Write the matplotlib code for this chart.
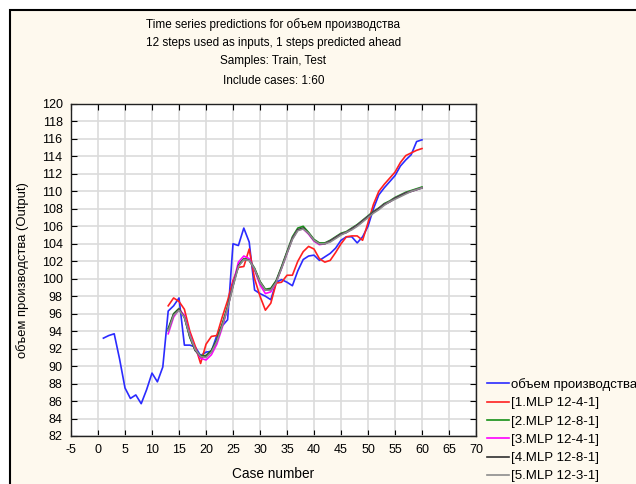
import matplotlib
matplotlib.use("Agg")
import matplotlib.pyplot as plt
from matplotlib.patches import Rectangle
import numpy as np

plt.rcParams['font.family'] = ['Liberation Sans', 'DejaVu Sans']
plt.rcParams['axes.unicode_minus'] = False

# ---------------- data ----------------
cases_obs = list(range(1, 61))
observed = [93.2, 93.5, 93.7, 90.8, 87.5, 86.3, 86.7, 85.7, 87.3, 89.2,
            88.2, 89.9, 96.3, 96.9, 97.8, 92.4, 92.4, 92.2, 91.2, 91.6,
            91.7, 93.5, 94.6, 95.3, 104.0, 103.8, 105.8, 104.2, 98.7, 98.3,
            98.0, 97.6, 99.6, 99.9, 99.6, 99.2, 100.9, 102.2, 102.6, 102.7,
            102.1, 102.5, 102.9, 103.5, 104.4, 104.8, 104.8, 104.1, 104.8, 106.0,
            108.0, 109.6, 110.4, 111.1, 111.8, 112.9, 113.6, 114.2, 115.7, 115.9]

cases_pred = list(range(13, 61))
mlp1 = [96.9, 97.8, 97.4, 96.5, 94.0, 92.3, 90.3, 92.5, 93.4, 93.5,
        95.6, 97.5, 99.8, 101.3, 101.4, 103.4, 100.0, 98.0, 96.4, 97.2,
        99.5, 99.6, 100.4, 100.4, 102.0, 103.1, 103.7, 103.4, 102.3, 101.9,
        102.1, 103.0, 104.0, 104.8, 104.9, 104.9, 104.4, 106.4, 108.5, 110.0,
        110.8, 111.5, 112.2, 113.3, 114.1, 114.4, 114.7, 114.9]
mlp2 = [94.3, 96.0, 96.6, 95.6, 93.3, 91.8, 91.2, 91.2, 91.8, 93.0,
        94.8, 96.8, 99.3, 101.6, 102.3, 102.2, 101.2, 99.7, 98.8, 98.9,
        99.8, 101.4, 103.1, 104.8, 105.8, 106.0, 105.3, 104.5, 104.1, 104.1,
        104.4, 104.8, 105.2, 105.4, 105.8, 106.2, 106.7, 107.2, 107.7, 108.1,
        108.6, 108.9, 109.3, 109.6, 109.9, 110.1, 110.3, 110.5]
mlp3 = [93.7, 95.6, 96.5, 95.8, 93.6, 91.9, 90.9, 90.7, 91.3, 92.5,
        94.4, 96.6, 99.4, 101.9, 102.6, 102.3, 101.0, 99.3, 98.3, 98.5,
        99.6, 101.2, 102.9, 104.6, 105.6, 105.7, 105.1, 104.3, 103.9, 104.0,
        104.3, 104.7, 105.1, 105.3, 105.7, 106.1, 106.6, 107.1, 107.6, 108.0,
        108.5, 108.8, 109.2, 109.5, 109.8, 110.0, 110.2, 110.4]
mlp4 = [94.1, 95.9, 96.5, 95.6, 93.4, 91.8, 91.1, 91.1, 91.7, 92.9,
        94.7, 96.7, 99.2, 101.5, 102.2, 102.1, 101.1, 99.6, 98.7, 98.8,
        99.7, 101.3, 103.0, 104.6, 105.6, 105.8, 105.2, 104.4, 104.0, 104.0,
        104.3, 104.7, 105.1, 105.3, 105.7, 106.1, 106.6, 107.1, 107.6, 108.0,
        108.5, 108.8, 109.2, 109.5, 109.8, 110.0, 110.2, 110.4]
mlp5 = [94.0, 95.8, 96.4, 95.6, 93.5, 91.9, 91.1, 91.0, 91.6, 92.8,
        94.6, 96.6, 99.1, 101.4, 102.2, 102.1, 101.1, 99.6, 98.7, 98.7,
        99.6, 101.2, 102.9, 104.5, 105.5, 105.7, 105.2, 104.4, 104.0, 104.0,
        104.2, 104.6, 105.0, 105.3, 105.6, 106.0, 106.5, 107.0, 107.5, 107.9,
        108.4, 108.8, 109.1, 109.4, 109.7, 110.0, 110.2, 110.4]

labels = ['объем производства', '[1.MLP 12-4-1]', '[2.MLP 12-8-1]',
          '[3.MLP 12-4-1]', '[4.MLP 12-8-1]', '[5.MLP 12-3-1]']
colors = ['#2b2bff', '#ff2020', '#169016', '#ff00ff', '#303030', '#8c8c8c']

title_lines = ['Time series predictions for объем производства',
               '12 steps used as inputs, 1 steps predicted ahead',
               'Samples: Train, Test',
               'Include cases: 1:60']

# ---------------- figure ----------------
W, H = 636, 484
fig = plt.figure(figsize=(W / 100, H / 100), dpi=100, facecolor='white')
bg = Rectangle((10 / W, -0.5), 2, 0.5 + (H - 10) / H, transform=fig.transFigure,
               facecolor='#fef9ee', edgecolor='black', linewidth=1.5, zorder=-10)
fig.add_artist(bg)

ax = fig.add_axes([71 / W, 1 - 436 / H, (476 - 71) / W, (436 - 104) / H])
ax.set_facecolor('white')

series = [(cases_obs, observed)] + [(cases_pred, s) for s in (mlp1, mlp2, mlp3, mlp4, mlp5)]
for (xs, ys), c, lab in zip(series, colors, labels):
    ax.plot(xs, ys, color=c, lw=1.2, label=lab)

ax.set_xlim(-5, 70)
ax.set_ylim(82, 120)
ax.set_xticks(np.arange(-5, 71, 5))
ax.set_yticks(np.arange(82, 121, 2))
ax.grid(True, color='#dcdcdc', lw=1.2)
ax.set_axisbelow(True)
ax.tick_params(direction='in', top=True, right=True, length=4, width=0.8,
               labelsize=9, pad=6, colors='black')
for sp in ax.spines.values():
    sp.set_color('#222222')
    sp.set_linewidth(1.0)

ax.set_xlabel('Case number', fontsize=9.8, labelpad=8)
ax.set_ylabel('объем производства (Output)', fontsize=9.4, labelpad=9)

ycent = [25, 43, 61, 81]
xc = (71 + 476) / 2 / W
for t, yy in zip(title_lines, ycent):
    fig.text(xc, 1 - yy / H, t, ha='center', va='center', fontsize=8.5)

fig.legend(loc='upper left', bbox_to_anchor=(487 / W, 1 - 378 / H),
           frameon=False, fontsize=9.5, handlelength=1.65, handletextpad=0.15,
           labelspacing=0.46, borderpad=0, borderaxespad=0)

fig.savefig('out.png', dpi=100, facecolor=fig.get_facecolor())
